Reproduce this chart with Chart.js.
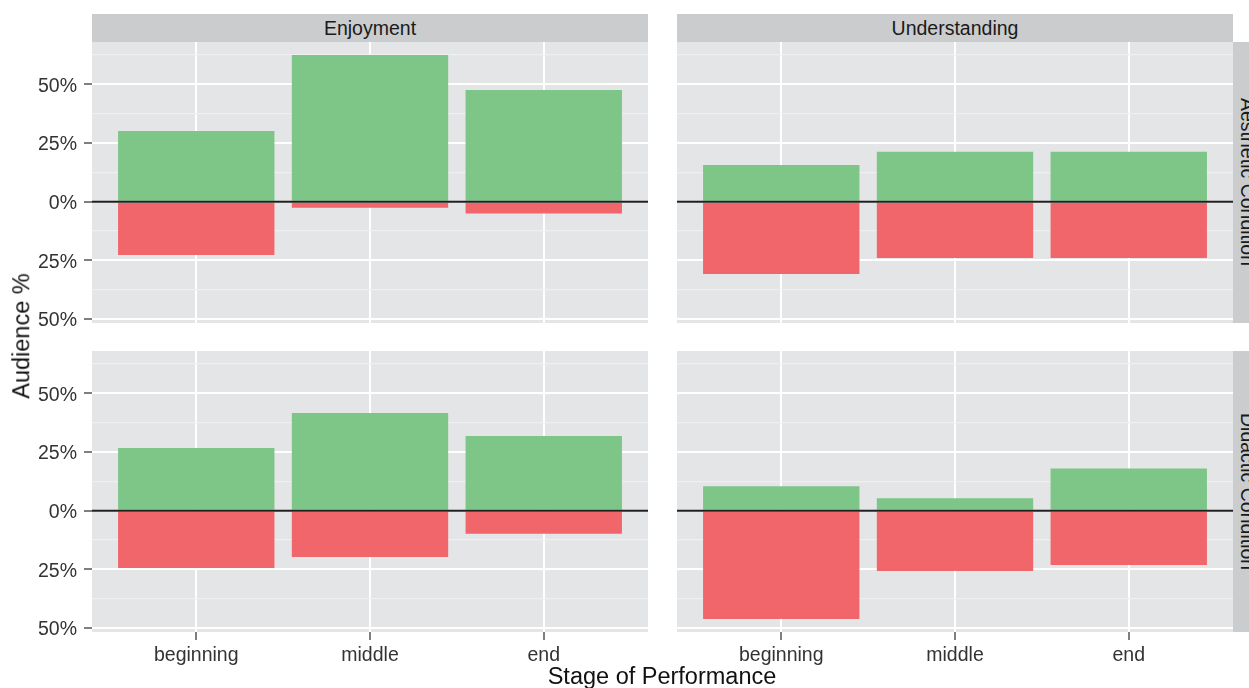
<!DOCTYPE html>
<html>
<head>
<meta charset="utf-8">
<script src="https://cdn.jsdelivr.net/npm/chart.js@4.4.0/dist/chart.umd.min.js"></script>
<style>
  body { margin:0; width:1249px; height:688px; overflow:hidden; background:#fff; position:relative;
         font-family:"Liberation Sans", Arial, sans-serif; }
  canvas { position:absolute; left:0; top:0; }
  .strip { position:absolute; background:#CBCCCE; color:#1a1a1a; font-size:19.5px;
           display:flex; align-items:center; justify-content:center; white-space:nowrap; }
  .side { writing-mode:vertical-rl; }
  .title { position:absolute; color:#111; font-size:23.5px; white-space:nowrap; line-height:1; }
</style>
</head>
<body>
<canvas id="c-ea" width="1249" height="688"></canvas>
<canvas id="c-ua" width="1249" height="688"></canvas>
<canvas id="c-ed" width="1249" height="688"></canvas>
<canvas id="c-ud" width="1249" height="688"></canvas>

<div class="strip" style="left:92px;top:14px;width:556px;height:28px">Enjoyment</div>
<div class="strip" style="left:677px;top:14px;width:556px;height:28px">Understanding</div>
<div class="strip side" style="left:1233px;top:42px;width:28px;height:281px">Aesthetic Condition</div>
<div class="strip side" style="left:1233px;top:351px;width:28px;height:281px">Didactic Condition</div>
<div class="title" style="left:22px;top:336px;transform:translate(-50%,-50%) rotate(-90deg)">Audience %</div>
<div class="title" style="left:662px;top:665px;transform:translateX(-50%)">Stage of Performance</div>

<script>
const stages = ["beginning", "middle", "end"];

// agree (green, above 0) and disagree (red, below 0), in %
const enjoyAestheticPos = [30.1, 62.5, 47.6];
const enjoyAestheticNeg = [-22.7, -2.6, -5.1];
const underAestheticPos = [15.6, 21.2, 21.2];
const underAestheticNeg = [-30.8, -24.0, -24.0];
const enjoyDidacticPos  = [26.7, 41.6, 31.8];
const enjoyDidacticNeg  = [-24.4, -19.7, -9.8];
const underDidacticPos  = [10.4, 5.3, 18.0];
const underDidacticNeg  = [-46.2, -25.7, -23.2];

const yTicks = [-50, -37.5, -25, -12.5, 0, 12.5, 25, 37.5, 50, 62.5];
const yMin = -51.7, yMax = 68.0;

const GREEN = "#7EC687", RED = "#F1666B";
const tickFont = { family: '"Liberation Sans", Arial, sans-serif', size: 19.5 };

const panelBits = {
  id: "panelBits",
  beforeDraw(chart) {
    const a = chart.chartArea, c = chart.ctx;
    c.save();
    c.fillStyle = "#E4E5E7";
    c.fillRect(a.left, a.top, a.width, a.height);
    c.restore();
  },
  afterDatasetsDraw(chart) {
    const a = chart.chartArea, c = chart.ctx;
    const y = chart.scales.y.getPixelForValue(0);
    c.save();
    c.strokeStyle = "#1f1f1f";
    c.lineWidth = 2;
    c.beginPath();
    c.moveTo(a.left, y);
    c.lineTo(a.right, y);
    c.stroke();
    c.restore();
  }
};

const isMajor = v => v % 25 === 0;

function makePanel(id, pos, neg, showY, showX, padding) {
  new Chart(document.getElementById(id), {
    type: "bar",
    data: {
      datasets: [
        { data: pos.map((v, i) => ({ x: i + 1, y: v })), backgroundColor: GREEN },
        { data: neg.map((v, i) => ({ x: i + 1, y: v })), backgroundColor: RED },
      ]
    },
    options: {
      responsive: false,
      animation: false,
      events: [],
      layout: { padding },
      datasets: { bar: { barPercentage: 0.9, categoryPercentage: 1, borderWidth: 0 } },
      plugins: { legend: { display: false }, tooltip: { enabled: false } },
      scales: {
        x: {
          type: "linear", min: 0.4, max: 3.6, stacked: true, offset: false,
          afterBuildTicks: s => { s.ticks = stages.map((_, i) => ({ value: i + 1 })); },
          ticks: { display: showX, callback: v => stages[v - 1], font: tickFont, color: "#333",
                   padding: 4, autoSkip: false, maxRotation: 0 },
          grid: { offset: false, color: "#fff", lineWidth: 2, drawTicks: showX, tickLength: 8,
                  tickColor: "#7f7f7f", tickWidth: 2 },
          border: { display: false },
          afterFit: s => { s.height = showX ? 56 : 0; s.paddingLeft = 0; s.paddingRight = 0; }
        },
        y: {
          min: yMin, max: yMax, stacked: true,
          afterBuildTicks: s => { s.ticks = yTicks.map(v => ({ value: v })); },
          ticks: { display: showY, callback: v => isMajor(v) ? Math.abs(v) + "%" : "",
                   font: tickFont, color: "#333", padding: 7, autoSkip: false, labelOffset: 2 },
          grid: {
            color: ctx => isMajor(ctx.tick.value) ? "#ffffff" : "#EFF0F1",
            lineWidth: ctx => isMajor(ctx.tick.value) ? 2 : 1.3,
            drawTicks: showY, tickLength: 8, tickWidth: 2,
            tickColor: ctx => isMajor(ctx.tick.value) ? "#7f7f7f" : "rgba(0,0,0,0)"
          },
          border: { display: false },
          afterFit: s => { s.width = showY ? 92 : 0; s.paddingTop = 0; s.paddingBottom = 0; }
        }
      }
    },
    plugins: [panelBits]
  });
}

makePanel("c-ea", enjoyAestheticPos, enjoyAestheticNeg, true,  false, { left: 0,   right: 601, top: 42,  bottom: 365 });
makePanel("c-ua", underAestheticPos, underAestheticNeg, false, false, { left: 677, right: 16,  top: 42,  bottom: 365 });
makePanel("c-ed", enjoyDidacticPos,  enjoyDidacticNeg,  true,  true,  { left: 0,   right: 601, top: 351, bottom: 0 });
makePanel("c-ud", underDidacticPos,  underDidacticNeg,  false, true,  { left: 677, right: 16,  top: 351, bottom: 0 });
</script>
</body>
</html>
